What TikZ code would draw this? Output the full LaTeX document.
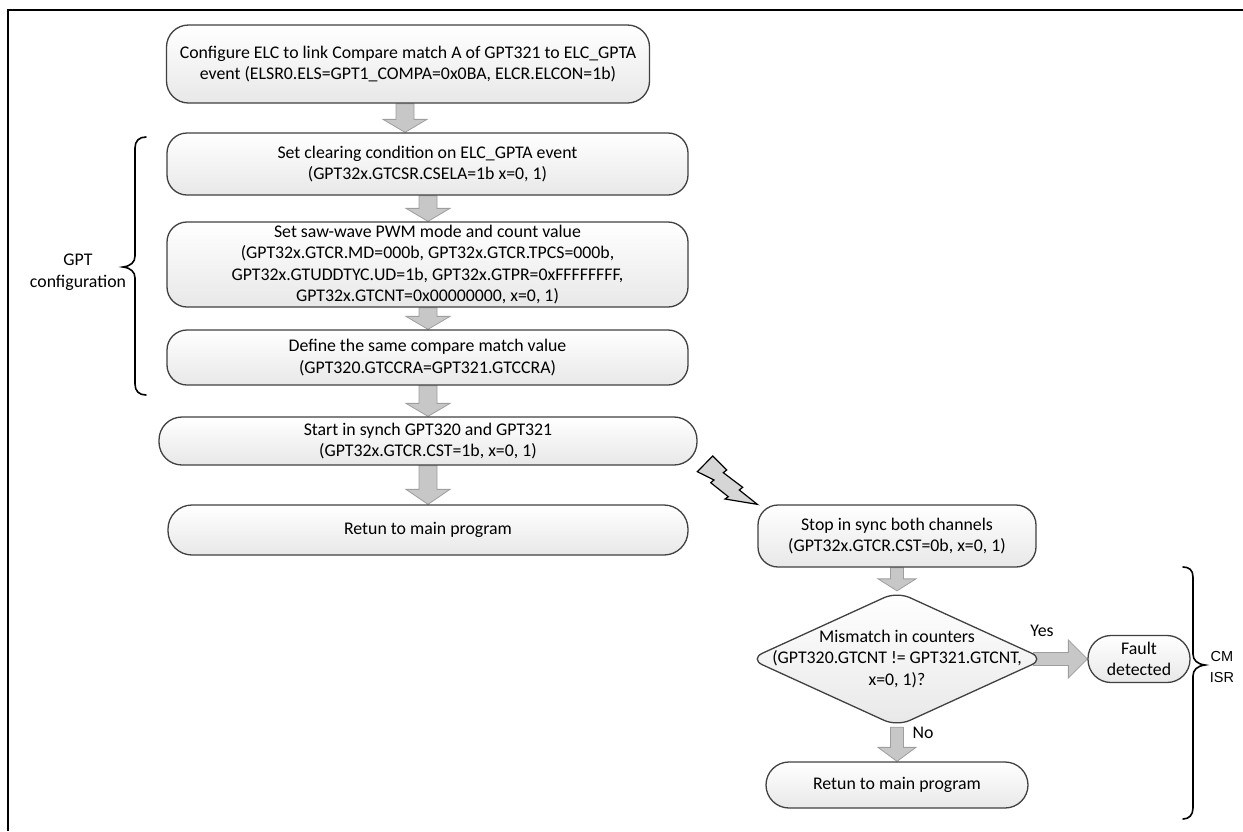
\documentclass[tikz,border=0pt]{standalone}
\usepackage{fontspec}
\setmainfont{Carlito}
\newfontfamily\arialfont{Liberation Sans}
\usetikzlibrary{shapes.geometric,calc}
\pgfdeclarelayer{background}
\pgfsetlayers{background,main}

\tikzset{
  flowbox/.style={draw=black!75, line width=1.3pt, top color=white, bottom color=black!9,
    align=center, inner sep=0pt, font=\fontsize{17.8}{21.5}\selectfont},
  plaintext/.style={align=center, inner sep=0pt, font=\fontsize{17.8}{21.5}\selectfont},
  blockarrow/.style={fill=black!22, draw=black!38, line width=0.8pt, line join=miter},
  frameline/.style={line width=2.6pt},
  bracket/.style={line width=1.6pt, line cap=round},
  bolt/.style={fill=black!16, draw=black, line width=1.2pt, line join=miter},
}

% vertical block arrow: from, to, half shaft, half head, head length
\newcommand\vblock[5]{%
  \path[blockarrow] let \p1=(#1), \p2=(#2) in
    (\x1-#3,\y1) -- (\x1+#3,\y1) -- (\x1+#3,\y2+#5) -- (\x1+#4,\y2+#5)
    -- (\x1,\y2) -- (\x1-#4,\y2+#5) -- (\x1-#3,\y2+#5) -- cycle;}

\begin{document}
\begin{tikzpicture}[x=1pt,y=-1pt]
\useasboundingbox (0,0) rectangle (1243,831);

% outer frame
\draw[frameline] (8,831) -- (8,10) -- (1243,10);

% arrow columns
\coordinate (colA) at (405,0);
\coordinate (colB) at (428,0);
\coordinate (colC) at (897,0);

% main flow
\node[flowbox, rounded corners=22pt, minimum width=483pt, minimum height=78pt] (b1) at (408,64)
  {Configure ELC to link Compare match A of GPT321 to ELC\_GPTA\\event (ELSR0.ELS=GPT1\_COMPA=0x0BA, ELCR.ELCON=1b)};
\node[flowbox, rounded corners=20pt, minimum width=521pt, minimum height=62pt] (b2) at (427.5,164)
  {Set clearing condition on ELC\_GPTA event\\(GPT32x.GTCSR.CSELA=1b x=0, 1)};
\node[flowbox, rounded corners=20pt, minimum width=521pt, minimum height=85pt] (b3) at (427.5,264.5)
  {Set saw-wave PWM mode and count value\\(GPT32x.GTCR.MD=000b, GPT32x.GTCR.TPCS=000b,\\GPT32x.GTUDDTYC.UD=1b, GPT32x.GTPR=0xFFFFFFFF,\\GPT32x.GTCNT=0x00000000, x=0, 1)};
\node[flowbox, rounded corners=20pt, minimum width=521pt, minimum height=55pt] (b4) at (427.5,357.5)
  {Define the same compare match value\\(GPT320.GTCCRA=GPT321.GTCCRA)};
\node[flowbox, rounded corners=23pt, minimum width=538pt, minimum height=48pt] (b5) at (428,441)
  {Start in synch GPT320 and GPT321\\(GPT32x.GTCR.CST=1b, x=0, 1)};
\node[flowbox, rounded corners=24pt, minimum width=520pt, minimum height=50pt] (b6) at (428,530)
  {Retun to main program};

% GPT configuration bracket
\draw[bracket] (146,137) .. controls (139,137) and (135,141) .. (135,148) -- (135,256)
  .. controls (135,262) and (131,266) .. (123,267) .. controls (131,268) and (135,272) .. (135,278)
  -- (135,384) .. controls (135,391) and (139,395) .. (146,395);
\node[plaintext] (gpt) at (78,272) {GPT\\configuration};

% interrupt service routine
\node[flowbox, rounded corners=20pt, minimum width=278pt, minimum height=62pt] (b7) at (897,536)
  {Stop in sync both channels\\(GPT32x.GTCR.CST=0b, x=0, 1)};
\node[diamond, draw=black!75, line width=1.3pt, top color=white, bottom color=black!9,
  rounded corners=14pt, inner sep=0pt, minimum width=295pt, minimum height=135pt] (dia) at (897,659) {};
\node[plaintext] (diatext) at (dia.center) {Mismatch in counters\\(GPT320.GTCNT != GPT321.GTCNT,\\x=0, 1)?};
\node[flowbox, rounded corners=23pt, minimum width=102pt, minimum height=47pt] (fault) at (1139,659)
  {Fault\\detected};
\node[flowbox, rounded corners=23pt, minimum width=262pt, minimum height=46pt] (b8) at (897,785)
  {Retun to main program};

% block arrows, kept behind the boxes
\begin{pgfonlayer}{background}
\vblock{b1.south -| colA}{b2.north -| colA}{9pt}{22pt}{13pt}
\vblock{b2.south -| colB}{b3.north -| colB}{9pt}{22pt}{13pt}
\vblock{b3.south -| colB}{b4.north -| colB}{9pt}{22pt}{13pt}
\vblock{b4.south -| colB}{b5.north -| colB}{9pt}{22pt}{13pt}
\vblock{b5.south -| colB}{b6.north -| colB}{9pt}{22pt}{15pt}
\vblock{b7.south -| colC}{dia.north -| colC}{6.5pt}{19pt}{12pt}
\vblock{dia.south -| colC}{b8.north -| colC}{6.5pt}{19pt}{14pt}
\path[blockarrow] let \p1=(dia.east), \p2=(fault.west) in
  (\x1-12pt,\y1+6.5pt) -- (\x2-19pt,\y1+6.5pt) -- (\x2-19pt,\y1+19pt) -- (\x2,\y1)
  -- (\x2-19pt,\y1-19pt) -- (\x2-19pt,\y1-6.5pt) -- (\x1-12pt,\y1-6.5pt) -- cycle;
\end{pgfonlayer}

\node[plaintext] (yes) at (1042,631) {Yes};
\node[plaintext] (no) at (923,733) {No};

% interrupt trigger
\draw[bolt] (712.7,456) -- (697.3,471.7) -- (714,480) -- (710.7,482.7) -- (728.3,496.7)
  -- (725,499) -- (b7.north west) -- (739.3,490) -- (742.7,487.3) -- (723.3,472.7)
  -- (726.7,470) -- cycle;

% CM ISR bracket
\draw[bracket] (1183,567) .. controls (1189,567) and (1193,570) .. (1193,577) -- (1193,654)
  .. controls (1193,660) and (1197,664) .. (1205,665) .. controls (1197,666) and (1193,670) .. (1193,676)
  -- (1193,808) .. controls (1193,815) and (1189,819) .. (1183,819);
\node[align=center, inner sep=0pt, font=\arialfont\fontsize{14.5}{21}\selectfont] (cmisr) at (1222,667) {CM\\ISR};
\end{tikzpicture}
\end{document}
